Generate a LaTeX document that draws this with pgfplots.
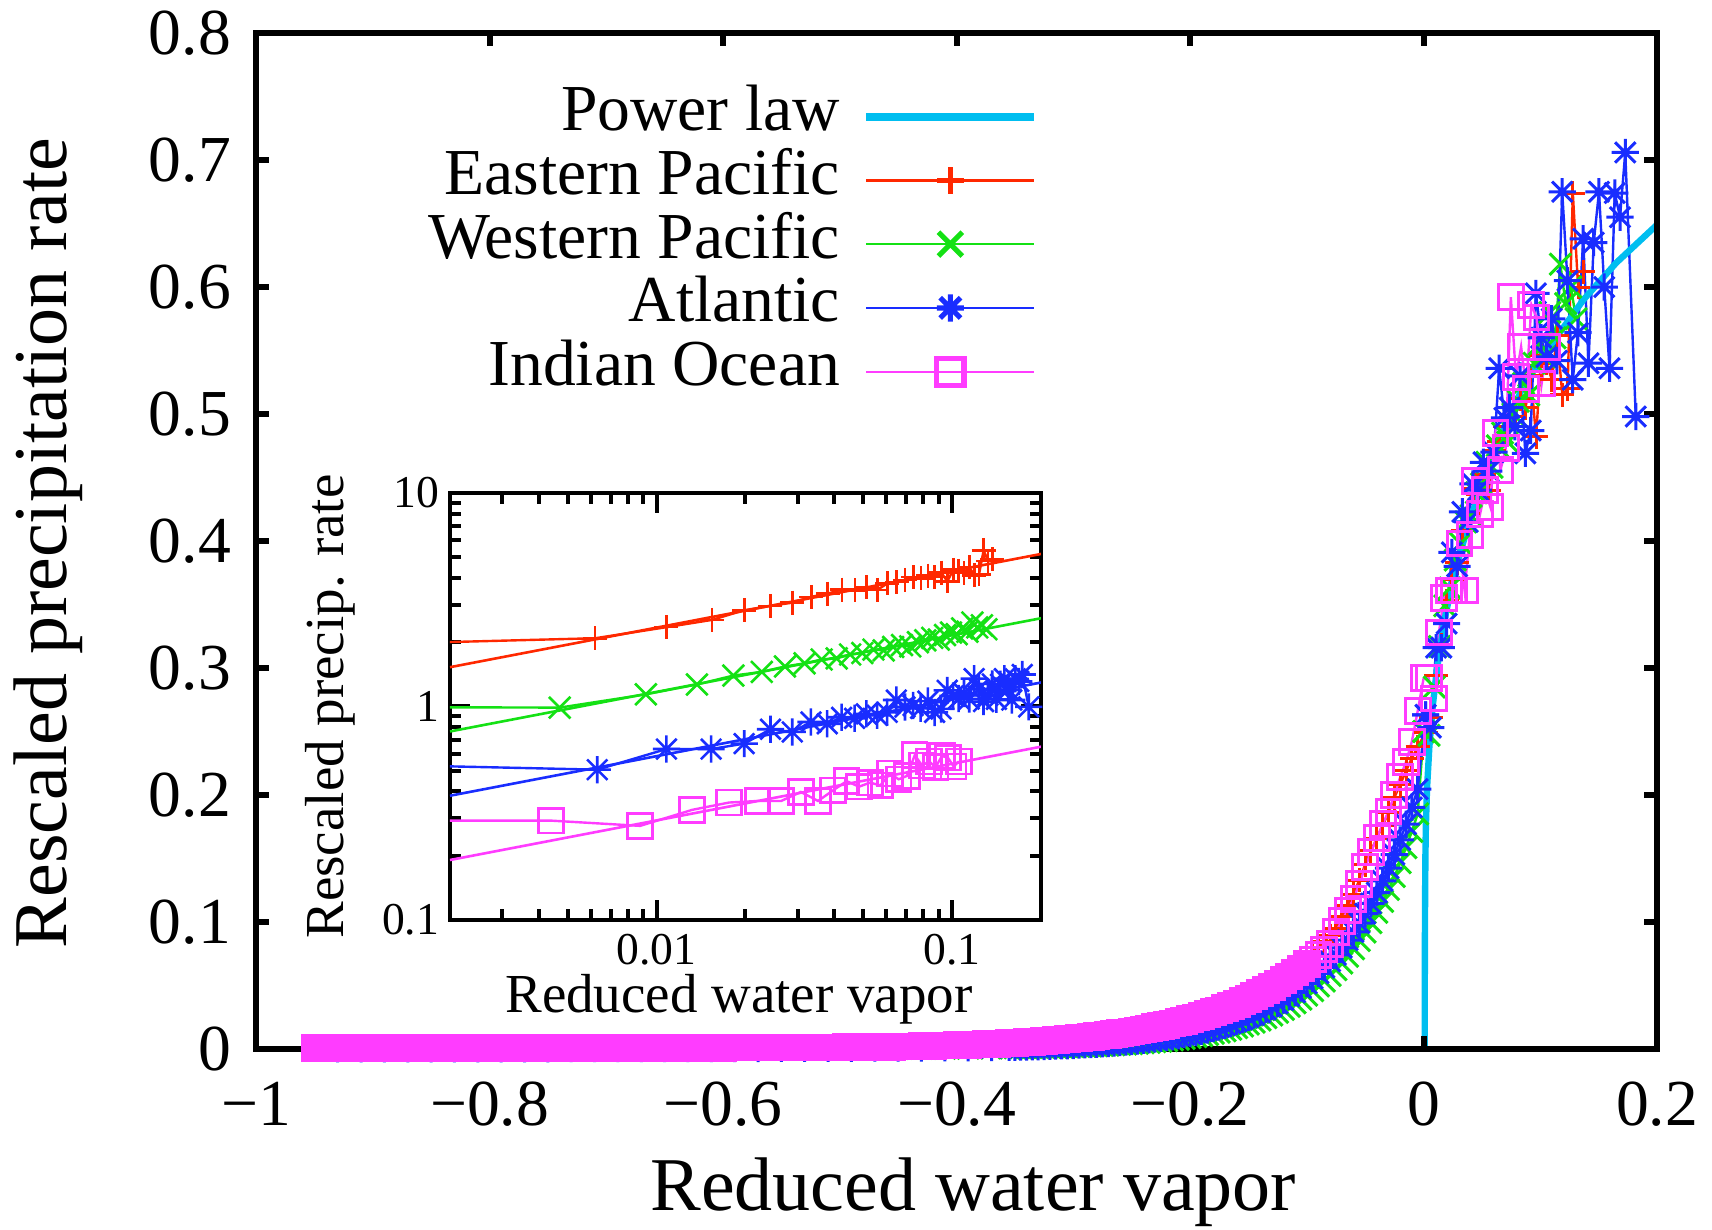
\documentclass[border=0pt]{standalone}
\usepackage{fontspec}
\setmainfont{Liberation Serif}
\usepackage{pgfplots}
\usepackage{pgfplotstable}
\pgfplotsset{compat=1.18}

\definecolor{gpred}{RGB}{255,40,0}
\definecolor{gpgreen}{RGB}{20,225,20}
\definecolor{gpblue}{RGB}{25,45,255}
\definecolor{gpmag}{RGB}{255,60,255}
\definecolor{gpcyan}{RGB}{0,190,240}

\newcommand\tickfont{\fontsize{16.4}{19.7}\selectfont}
\newcommand\labfont{\fontsize{19}{22.8}\selectfont}
\newcommand\itick{\fontsize{11.4}{13.7}\selectfont}
\newcommand\ilab{\fontsize{13.75}{16.5}\selectfont}

% gnuplot-like asterisk: a plus and a cross on top of each other
\pgfdeclareplotmark{gpstar}{%
  \pgfpathmoveto{\pgfqpoint{-\pgfplotmarksize}{0pt}}\pgfpathlineto{\pgfqpoint{\pgfplotmarksize}{0pt}}%
  \pgfpathmoveto{\pgfqpoint{0pt}{-\pgfplotmarksize}}\pgfpathlineto{\pgfqpoint{0pt}{\pgfplotmarksize}}%
  \pgfpathmoveto{\pgfqpoint{-.75\pgfplotmarksize}{-.75\pgfplotmarksize}}\pgfpathlineto{\pgfqpoint{.75\pgfplotmarksize}{.75\pgfplotmarksize}}%
  \pgfpathmoveto{\pgfqpoint{-.75\pgfplotmarksize}{.75\pgfplotmarksize}}\pgfpathlineto{\pgfqpoint{.75\pgfplotmarksize}{-.75\pgfplotmarksize}}%
  \pgfusepathqstroke}

\pgfplotsset{
  sEP/.style={color=gpred, line width=0.6pt, mark=+, mark size=3pt, mark options={line width=0.75pt}},
  sWP/.style={color=gpgreen, line width=0.6pt, mark=x, mark size=3.8pt, mark options={line width=0.75pt}},
  sAT/.style={color=gpblue, line width=0.6pt, mark=gpstar, mark size=3.4pt, mark options={line width=0.75pt}},
  sIO/.style={color=gpmag, line width=0.6pt, mark=square, mark size=3.1pt, mark options={line width=0.75pt}},
}

% ---------------- Eastern Pacific ----------------
\pgfplotstableread[row sep=\\]{
x y\\
-0.950 0.0008\\ -0.930 0.0008\\ -0.910 0.0008\\ -0.890 0.0008\\ -0.870 0.0008\\ -0.850 0.0008\\ -0.830 0.0008\\ -0.810 0.0008\\
-0.790 0.0008\\ -0.770 0.0009\\ -0.750 0.0009\\ -0.730 0.0010\\ -0.710 0.0010\\ -0.690 0.0010\\ -0.670 0.0011\\ -0.650 0.0011\\
-0.630 0.0011\\ -0.610 0.0012\\ -0.590 0.0012\\ -0.570 0.0013\\ -0.550 0.0014\\ -0.530 0.0015\\ -0.510 0.0016\\ -0.490 0.0017\\
-0.470 0.0018\\ -0.450 0.0021\\ -0.430 0.0024\\ -0.410 0.0029\\ -0.390 0.0035\\ -0.370 0.0042\\ -0.355 0.0049\\
-0.350 0.0052\\ -0.345 0.0055\\ -0.340 0.0058\\ -0.335 0.0061\\ -0.330 0.0065\\ -0.325 0.0068\\ -0.320 0.0072\\ -0.315 0.0076\\
-0.310 0.0080\\ -0.305 0.0084\\ -0.300 0.0089\\ -0.295 0.0093\\ -0.290 0.0098\\ -0.285 0.0104\\ -0.280 0.0109\\ -0.275 0.0115\\
-0.270 0.0121\\ -0.265 0.0128\\ -0.260 0.0135\\ -0.255 0.0142\\ -0.250 0.0150\\ -0.245 0.0158\\ -0.240 0.0166\\ -0.235 0.0175\\
-0.230 0.0185\\ -0.225 0.0195\\ -0.220 0.0205\\ -0.215 0.0216\\ -0.210 0.0228\\ -0.205 0.0240\\ -0.200 0.0253\\ -0.195 0.0266\\
-0.190 0.0281\\ -0.185 0.0296\\ -0.180 0.0312\\ -0.175 0.0329\\ -0.170 0.0347\\ -0.165 0.0365\\ -0.160 0.0385\\ -0.155 0.0406\\
-0.150 0.0427\\ -0.145 0.0450\\ -0.140 0.0475\\ -0.135 0.0500\\ -0.130 0.0527\\ -0.125 0.0556\\ -0.120 0.0586\\ -0.115 0.0617\\
-0.110 0.0650\\ -0.105 0.0686\\ -0.100 0.0722\\ -0.095 0.0761\\ -0.090 0.0802\\ -0.085 0.0846\\ -0.080 0.0891\\ -0.075 0.095\\
-0.070 0.104\\ -0.065 0.113\\ -0.060 0.122\\ -0.055 0.133\\ -0.050 0.145\\ -0.045 0.156\\ -0.040 0.166\\ -0.035 0.176\\
-0.030 0.186\\ -0.025 0.198\\ -0.020 0.208\\ -0.015 0.219\\ -0.010 0.229\\ -0.005 0.238\\ 0.0017 0.249\\
}\redneg
\pgfplotstableread[row sep=\\]{
x y\\
0.0017 0.249\\ 0.0062 0.261\\ 0.0108 0.294\\ 0.0154 0.318\\ 0.0198 0.353\\ 0.0243 0.370\\ 0.0288 0.383\\ 0.0334 0.408\\
0.0379 0.422\\ 0.0424 0.441\\ 0.0469 0.437\\ 0.0514 0.452\\ 0.0559 0.440\\ 0.0604 0.471\\ 0.0649 0.478\\ 0.0694 0.490\\
0.0739 0.505\\ 0.0784 0.498\\ 0.0829 0.512\\ 0.0874 0.505\\ 0.0919 0.530\\ 0.0964 0.482\\ 0.1009 0.546\\ 0.1054 0.540\\
0.1099 0.527\\ 0.1144 0.562\\ 0.1189 0.515\\ 0.1234 0.520\\ 0.1279 0.674\\ 0.1324 0.600\\ 0.1369 0.612\\
}\redpos

% ---------------- Western Pacific ----------------
\pgfplotstableread[row sep=\\]{
x y\\
-0.950 0.0002\\ -0.930 0.0002\\ -0.910 0.0002\\ -0.890 0.0002\\ -0.870 0.0002\\ -0.850 0.0002\\ -0.830 0.0002\\ -0.810 0.0002\\
-0.790 0.0002\\ -0.770 0.0002\\ -0.750 0.0002\\ -0.730 0.0002\\ -0.710 0.0002\\ -0.690 0.0002\\ -0.670 0.0002\\ -0.650 0.0002\\
-0.630 0.0002\\ -0.610 0.0002\\ -0.590 0.0002\\ -0.570 0.0002\\ -0.550 0.0002\\ -0.530 0.0003\\ -0.510 0.0003\\ -0.490 0.0003\\
-0.470 0.0004\\ -0.450 0.0004\\ -0.430 0.0005\\ -0.410 0.0005\\ -0.390 0.0006\\ -0.370 0.0007\\ -0.355 0.0008\\
-0.350 0.0009\\ -0.345 0.0010\\ -0.340 0.0010\\ -0.335 0.0011\\ -0.330 0.0012\\ -0.325 0.0013\\ -0.320 0.0014\\ -0.315 0.0015\\
-0.310 0.0016\\ -0.305 0.0018\\ -0.300 0.0019\\ -0.295 0.0021\\ -0.290 0.0022\\ -0.285 0.0024\\ -0.280 0.0026\\ -0.275 0.0028\\
-0.270 0.0030\\ -0.265 0.0033\\ -0.260 0.0036\\ -0.255 0.0038\\ -0.250 0.0042\\ -0.245 0.0045\\ -0.240 0.0049\\ -0.235 0.0052\\
-0.230 0.0057\\ -0.225 0.0061\\ -0.220 0.0066\\ -0.215 0.0071\\ -0.210 0.0077\\ -0.205 0.0083\\ -0.200 0.0090\\ -0.195 0.0097\\
-0.190 0.0105\\ -0.185 0.0114\\ -0.180 0.0123\\ -0.175 0.0133\\ -0.170 0.0143\\ -0.165 0.0155\\ -0.160 0.0168\\ -0.155 0.0181\\
-0.150 0.0196\\ -0.145 0.0211\\ -0.140 0.0228\\ -0.135 0.0247\\ -0.130 0.0267\\ -0.125 0.0288\\ -0.120 0.0311\\ -0.115 0.0336\\
-0.110 0.0364\\ -0.105 0.0393\\ -0.100 0.0424\\ -0.095 0.0459\\ -0.090 0.0496\\ -0.085 0.0535\\ -0.080 0.0579\\ -0.075 0.0625\\
-0.070 0.0676\\ -0.065 0.0730\\ -0.060 0.0789\\ -0.055 0.0853\\ -0.050 0.0921\\ -0.045 0.0995\\ -0.040 0.1076\\ -0.035 0.1162\\
-0.030 0.1256\\ -0.025 0.1357\\ -0.020 0.1467\\ -0.015 0.1585\\ -0.010 0.1713\\ -0.005 0.1851\\ 0.0002 0.250\\
}\grnneg
\pgfplotstableread[row sep=\\]{
x y\\
0.0002 0.250\\ 0.0047 0.247\\ 0.0092 0.285\\ 0.0137 0.317\\ 0.0182 0.349\\ 0.0227 0.363\\ 0.0272 0.385\\ 0.0317 0.398\\
0.0362 0.415\\ 0.0407 0.420\\ 0.0452 0.438\\ 0.0497 0.445\\ 0.0542 0.462\\ 0.0587 0.458\\ 0.0632 0.475\\ 0.0677 0.485\\
0.0722 0.478\\ 0.0767 0.500\\ 0.0812 0.510\\ 0.0857 0.524\\ 0.0902 0.515\\ 0.0947 0.540\\ 0.0992 0.555\\ 0.1037 0.545\\
0.1082 0.580\\ 0.1127 0.560\\ 0.1172 0.618\\ 0.1217 0.587\\ 0.1262 0.600\\ 0.1307 0.575\\
}\grnpos

% ---------------- Atlantic ----------------
\pgfplotstableread[row sep=\\]{
x y\\
-0.930 0.0002\\ -0.910 0.0002\\ -0.890 0.0002\\ -0.870 0.0002\\ -0.850 0.0002\\ -0.830 0.0002\\ -0.810 0.0002\\ -0.790 0.0002\\
-0.770 0.0002\\ -0.750 0.0002\\ -0.730 0.0003\\ -0.710 0.0003\\ -0.690 0.0003\\ -0.670 0.0003\\ -0.650 0.0003\\ -0.630 0.0003\\
-0.610 0.0004\\ -0.590 0.0004\\ -0.570 0.0004\\ -0.550 0.0005\\ -0.530 0.0005\\ -0.510 0.0006\\ -0.490 0.0006\\ -0.470 0.0007\\
-0.450 0.0007\\ -0.430 0.0008\\ -0.410 0.0009\\ -0.390 0.0010\\ -0.370 0.0011\\ -0.355 0.0013\\
-0.350 0.0014\\ -0.345 0.0015\\ -0.340 0.0016\\ -0.335 0.0017\\ -0.330 0.0018\\ -0.325 0.0020\\ -0.320 0.0021\\ -0.315 0.0023\\
-0.310 0.0025\\ -0.305 0.0026\\ -0.300 0.0028\\ -0.295 0.0031\\ -0.290 0.0033\\ -0.285 0.0035\\ -0.280 0.0038\\ -0.275 0.0041\\
-0.270 0.0044\\ -0.265 0.0047\\ -0.260 0.0051\\ -0.255 0.0055\\ -0.250 0.0059\\ -0.245 0.0063\\ -0.240 0.0068\\ -0.235 0.0073\\
-0.230 0.0078\\ -0.225 0.0084\\ -0.220 0.0091\\ -0.215 0.0097\\ -0.210 0.0105\\ -0.205 0.0113\\ -0.200 0.0121\\ -0.195 0.0130\\
-0.190 0.0140\\ -0.185 0.0150\\ -0.180 0.0162\\ -0.175 0.0174\\ -0.170 0.0187\\ -0.165 0.0201\\ -0.160 0.0216\\ -0.155 0.0232\\
-0.150 0.0250\\ -0.145 0.0268\\ -0.140 0.0289\\ -0.135 0.0310\\ -0.130 0.0334\\ -0.125 0.0359\\ -0.120 0.0386\\ -0.115 0.0415\\
-0.110 0.0446\\ -0.105 0.0480\\ -0.100 0.0516\\ -0.095 0.0555\\ -0.090 0.0596\\ -0.085 0.0641\\ -0.080 0.0690\\ -0.075 0.0741\\
-0.070 0.0797\\ -0.065 0.0857\\ -0.060 0.0922\\ -0.055 0.0991\\ -0.050 0.1065\\ -0.045 0.1146\\ -0.040 0.1232\\ -0.035 0.1324\\
-0.030 0.1424\\ -0.025 0.1531\\ -0.020 0.1646\\ -0.015 0.1770\\ -0.010 0.1903\\ -0.005 0.2046\\ 0.0018 0.263\\
}\bluneg
\pgfplotstableread[row sep=\\]{
x y\\
0.0018 0.263\\ 0.0063 0.253\\ 0.0108 0.316\\ 0.0153 0.316\\ 0.0198 0.335\\ 0.0243 0.391\\ 0.0288 0.380\\ 0.0333 0.423\\
0.0378 0.415\\ 0.0423 0.445\\ 0.0468 0.440\\ 0.0513 0.462\\ 0.0558 0.455\\ 0.0603 0.470\\ 0.0648 0.536\\ 0.0693 0.497\\
0.0738 0.505\\ 0.0783 0.490\\ 0.0828 0.530\\ 0.0873 0.469\\ 0.0918 0.487\\ 0.0963 0.595\\ 0.1008 0.560\\ 0.1053 0.545\\
0.1098 0.575\\ 0.1143 0.542\\ 0.1188 0.675\\ 0.1233 0.605\\ 0.1278 0.527\\ 0.1323 0.564\\ 0.1368 0.638\\ 0.1413 0.540\\
0.1458 0.635\\ 0.1503 0.675\\ 0.1548 0.600\\ 0.1593 0.536\\ 0.1638 0.674\\ 0.1683 0.655\\ 0.1728 0.706\\ 0.1818 0.498\\
}\blupos

% ---------------- Indian Ocean ----------------
% dry end: squares packed so closely that they merge into a band
\pgfplotstableread[row sep=\\]{
x y\\
-0.950 0.0008\\ -0.945 0.0008\\ -0.940 0.0008\\ -0.935 0.0008\\ -0.930 0.0008\\ -0.925 0.0008\\ -0.920 0.0008\\ -0.915 0.0008\\
-0.910 0.0008\\ -0.905 0.0008\\ -0.900 0.0008\\ -0.895 0.0008\\ -0.890 0.0008\\ -0.885 0.0008\\ -0.880 0.0008\\ -0.875 0.0008\\
-0.870 0.0008\\ -0.865 0.0008\\ -0.860 0.0008\\ -0.855 0.0008\\ -0.850 0.0008\\ -0.845 0.0008\\ -0.840 0.0008\\ -0.835 0.0008\\
-0.830 0.0008\\ -0.825 0.0008\\ -0.820 0.0008\\ -0.815 0.0008\\ -0.810 0.0008\\ -0.805 0.0008\\ -0.800 0.0008\\ -0.795 0.0008\\
-0.790 0.0008\\ -0.785 0.0008\\ -0.780 0.0008\\ -0.775 0.0008\\ -0.770 0.0008\\ -0.765 0.0008\\ -0.760 0.0008\\ -0.755 0.0008\\
-0.750 0.0008\\ -0.745 0.0010\\ -0.740 0.0010\\ -0.735 0.0010\\ -0.730 0.0010\\ -0.725 0.0010\\ -0.720 0.0010\\ -0.715 0.0010\\
-0.710 0.0010\\ -0.705 0.0010\\ -0.700 0.0010\\ -0.695 0.0010\\ -0.690 0.0010\\ -0.685 0.0010\\ -0.680 0.0010\\ -0.675 0.0010\\
-0.670 0.0010\\ -0.665 0.0010\\ -0.660 0.0010\\ -0.655 0.0010\\ -0.650 0.0010\\ -0.645 0.0010\\ -0.640 0.0010\\ -0.635 0.0010\\
-0.630 0.0010\\ -0.625 0.0010\\ -0.620 0.0010\\ -0.615 0.0010\\ -0.610 0.0010\\ -0.605 0.0010\\ -0.600 0.0010\\ -0.595 0.0011\\
-0.590 0.0011\\ -0.585 0.0011\\ -0.580 0.0011\\ -0.575 0.0011\\ -0.570 0.0011\\ -0.565 0.0011\\ -0.560 0.0011\\ -0.555 0.0011\\
-0.550 0.0011\\ -0.545 0.0013\\ -0.540 0.0013\\ -0.535 0.0013\\ -0.530 0.0013\\ -0.525 0.0013\\ -0.520 0.0013\\ -0.515 0.0013\\
-0.510 0.0013\\ -0.505 0.0013\\ -0.500 0.0013\\ -0.495 0.0015\\ -0.490 0.0015\\ -0.485 0.0015\\ -0.480 0.0015\\ -0.475 0.0015\\
-0.470 0.0015\\ -0.465 0.0016\\ -0.460 0.0017\\ -0.455 0.0018\\ -0.450 0.0019\\ -0.445 0.0019\\ -0.440 0.0020\\ -0.435 0.0021\\
-0.430 0.0022\\ -0.425 0.0023\\ -0.420 0.0025\\ -0.415 0.0026\\ -0.410 0.0027\\ -0.405 0.0028\\ -0.400 0.0030\\ -0.395 0.0031\\
-0.390 0.0032\\ -0.385 0.0034\\ -0.380 0.0036\\ -0.375 0.0037\\ -0.370 0.0039\\ -0.365 0.0041\\ -0.360 0.0043\\ -0.355 0.0045\\
-0.350 0.0049\\ -0.345 0.0051\\ -0.340 0.0054\\ -0.335 0.0057\\ -0.330 0.0060\\ -0.325 0.0063\\ -0.320 0.0067\\ -0.315 0.0070\\
-0.310 0.0074\\ -0.305 0.0078\\ -0.300 0.0082\\ -0.295 0.0086\\ -0.290 0.0091\\ -0.285 0.0096\\ -0.280 0.0101\\ -0.275 0.0107\\
-0.270 0.0112\\ -0.265 0.0118\\ -0.260 0.0125\\ -0.255 0.0131\\ -0.250 0.0139\\ -0.245 0.0146\\ -0.240 0.0154\\ -0.235 0.0162\\
-0.230 0.0171\\ -0.225 0.0180\\ -0.220 0.0190\\ -0.215 0.0200\\ -0.210 0.0211\\ -0.205 0.0222\\ -0.200 0.0234\\ -0.195 0.0247\\
-0.190 0.0260\\ -0.185 0.0274\\ -0.180 0.0289\\ -0.175 0.0304\\ -0.170 0.0321\\ -0.165 0.0338\\ -0.160 0.0356\\ -0.155 0.0376\\
-0.150 0.0396\\ -0.145 0.0417\\ -0.140 0.0440\\ -0.135 0.0463\\ -0.130 0.0488\\ -0.125 0.0515\\ -0.120 0.0542\\ -0.115 0.0571\\
-0.110 0.0602\\ -0.105 0.0635\\ -0.100 0.0669\\
}\magflat
\pgfplotstableread[row sep=\\]{
x y\\
-0.100 0.0669\\ -0.095 0.0705\\ -0.090 0.0743\\ -0.085 0.0783\\ -0.080 0.0825\\ -0.075 0.092\\
-0.070 0.101\\ -0.065 0.109\\ -0.060 0.118\\ -0.055 0.130\\ -0.050 0.143\\ -0.045 0.155\\ -0.040 0.166\\ -0.035 0.177\\
-0.030 0.187\\ -0.025 0.200\\ -0.020 0.214\\ -0.015 0.226\\ -0.010 0.242\\ -0.005 0.266\\ 0.0001 0.292\\
}\magneg
\pgfplotstableread[row sep=\\]{
x y\\
0.0001 0.292\\ 0.0044 0.292\\ 0.0088 0.276\\ 0.0132 0.328\\ 0.0176 0.355\\ 0.0220 0.361\\ 0.0264 0.361\\ 0.0308 0.398\\
0.0352 0.361\\ 0.0396 0.405\\ 0.0440 0.447\\ 0.0484 0.421\\ 0.0528 0.440\\ 0.0572 0.427\\ 0.0616 0.485\\ 0.0660 0.456\\
0.0704 0.473\\ 0.0748 0.592\\ 0.0792 0.529\\ 0.0836 0.553\\ 0.0880 0.520\\ 0.0924 0.586\\ 0.0968 0.576\\ 0.1012 0.524\\
0.1056 0.553\\
}\magpos

\begin{document}
\begin{tikzpicture}
\useasboundingbox (0,0) rectangle (428pt,307.5pt);

% ---------------- main panel ----------------
\begin{axis}[
  at={(64pt,45.25pt)}, anchor=south west,
  scale only axis, width=350.25pt, height=254pt,
  xmin=-1, xmax=0.2, ymin=0, ymax=0.8,
  xtick={-1,-0.8,-0.6,-0.4,-0.2,0,0.2},
  xticklabels={−1,−0.8,−0.6,−0.4,−0.2,0,0.2},
  ytick={0,0.1,0.2,0.3,0.4,0.5,0.6,0.7,0.8},
  yticklabels={0,0.1,0.2,0.3,0.4,0.5,0.6,0.7,0.8},
  tick align=inside,
  axis line style={line width=1.5pt},
  tick style={black, line width=1.5pt},
  major tick length=3.25pt,
  axis on top, clip=false,
  xticklabel style={font=\tickfont, inner sep=0pt, yshift=-8pt},
  yticklabel style={font=\tickfont, inner sep=0pt, xshift=-6.1pt},
  xlabel={Reduced water vapor},
  ylabel={Rescaled precipitation rate},
  xlabel style={font=\labfont, at={(axis description cs:0.512,-0.1585)}, anchor=base, inner sep=0pt},
  ylabel style={font=\labfont, at={(axis description cs:-0.1356,0.498)}, anchor=base, inner sep=0pt},
  legend plot pos=right, legend cell align=right,
  legend image code/.code={\draw[mark repeat=2,mark phase=2,#1] plot coordinates {(0pt,0pt)(21pt,0pt)(42pt,0pt)};},
  legend style={draw=none, fill=none, at={(axis description cs:0.559,0.950)}, anchor=north east,
    font=\tickfont, row sep=0pt, column sep=5.6pt, inner sep=0pt,
    nodes={inner sep=0pt, text height=11.45pt, text depth=4.5pt}},
]
\addlegendimage{gpcyan, line width=2pt}
\addlegendentry{Power law}
\addlegendimage{sEP, mark size=3.3pt, mark options={line width=1.3pt}}
\addlegendentry{Eastern Pacific}
\addlegendimage{sWP, mark size=4.2pt, mark options={line width=1.3pt}}
\addlegendentry{Western Pacific}
\addlegendimage{sAT, mark size=3.4pt, mark options={line width=1.3pt}}
\addlegendentry{Atlantic}
\addlegendimage{sIO, mark size=3.4pt, mark options={line width=1.3pt}}
\addlegendentry{Indian Ocean}

\addplot[sEP, forget plot] table {\redneg};
\addplot[sEP, forget plot] table {\redpos};
\addplot[sWP, forget plot] table {\grnneg};
\addplot[sWP, forget plot] table {\grnpos};
\addplot[sAT, forget plot] table {\bluneg};
\addplot[sAT, forget plot] table {\blupos};
\addplot[sIO, mark size=2.75pt, mark options={line width=1.4pt}, forget plot] table {\magflat};
\addplot[sIO, forget plot] table {\magneg};
\addplot[sIO, forget plot] table {\magpos};

% power-law fit
\addplot[gpcyan, line width=1.6pt, forget plot] coordinates {
  (0.0010,0) (0.0011,0.060) (0.0013,0.110) (0.0016,0.150) (0.0020,0.175)
  (0.0030,0.205) (0.0050,0.238) (0.0080,0.271) (0.0120,0.302) (0.0180,0.338)
  (0.0270,0.377) (0.0370,0.408) (0.0510,0.448) (0.0680,0.487) (0.0850,0.521)
  (0.1080,0.553) (0.1370,0.590) (0.1650,0.619) (0.2000,0.649)
};
\end{axis}

% ---------------- inset: log-log, offset by factors of two ----------------
\begin{axis}[
  at={(112.5pt,77.5pt)}, anchor=south west,
  scale only axis, width=147.75pt, height=106.75pt,
  xmode=log, ymode=log,
  xmin=0.002, xmax=0.2, ymin=0.1, ymax=10,
  xtick={0.01,0.1}, xticklabels={0.01,0.1},
  ytick={0.1,1,10}, yticklabels={0.1,1,10},
  minor xtick={0.002,0.003,0.004,0.005,0.006,0.007,0.008,0.009,0.02,0.03,0.04,0.05,0.06,0.07,0.08,0.09,0.2},
  minor ytick={0.2,0.3,0.4,0.5,0.6,0.7,0.8,0.9,2,3,4,5,6,7,8,9},
  tick align=inside,
  axis line style={line width=1pt},
  tick style={black, line width=1pt},
  major tick length=5pt, minor tick length=2.75pt,
  axis background/.style={fill=white},
  xticklabel style={font=\itick, inner sep=0pt, yshift=-3.4pt},
  yticklabel style={font=\itick, inner sep=0pt, xshift=-2.5pt},
  xlabel={Reduced water vapor},
  ylabel={Rescaled precip. rate},
  xlabel style={font=\ilab, at={(axis description cs:0.489,-0.216)}, anchor=base, inner sep=0pt},
  ylabel style={font=\ilab, at={(axis description cs:-0.181,0.5)}, anchor=base, inner sep=0pt},
]
\addplot[sEP, mark options={line width=0.65pt}] table[y expr=\thisrow{y}*8] {\redpos};
\addplot[gpred, line width=0.65pt] coordinates {(0.002,1.528) (0.2,5.18)};
\addplot[sWP, mark options={line width=0.65pt}] table[y expr=\thisrow{y}*4] {\grnpos};
\addplot[gpgreen, line width=0.65pt] coordinates {(0.002,0.764) (0.2,2.59)};
\addplot[sAT, mark options={line width=0.65pt}] table[y expr=\thisrow{y}*2] {\blupos};
\addplot[gpblue, line width=0.65pt] coordinates {(0.002,0.382) (0.2,1.295)};
\addplot[sIO, mark options={line width=0.65pt}] table {\magpos};
\addplot[gpmag, line width=0.65pt] coordinates {(0.002,0.191) (0.2,0.648)};
\end{axis}
\end{tikzpicture}
\end{document}
